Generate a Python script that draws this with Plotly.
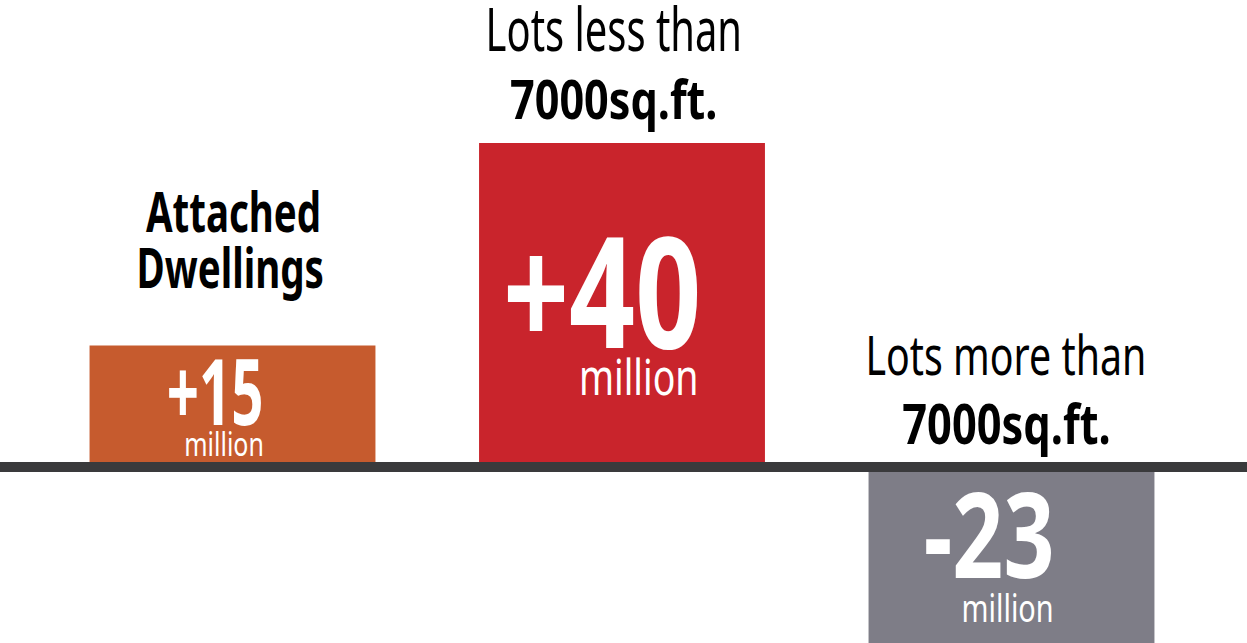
import plotly.graph_objects as go

categories = ["Attached Dwellings", "Lots less than 7000sq.ft.", "Lots more than 7000sq.ft."]
values = [15, 40, -23]
value_labels = ["+15", "+40", "-23"]
unit_label = "million"
title_lines = [("Attached", "Dwellings"), ("Lots less than", "7000sq.ft."), ("Lots more than", "7000sq.ft.")]
colors = ["#C65B2E", "#C9242C", "#7E7D87"]

W, H = 1247, 643
FONT = "Noto Sans, DejaVu Sans Condensed, sans-serif"
px_per_unit = 8.1
zero_px = 467
cat_px = [232.5, 622.0, 1011.5]

fig = go.Figure(go.Bar(
    x=categories, y=values, marker=dict(color=colors, line=dict(width=0)),
    width=0.734, hoverinfo="skip",
))

def py(p):
    return 1 - p / H

ann = []
squeeze = []  # horizontal condensing factor per annotation (narrow display face)
# (text, bold, cap-center px y, center px x, size, squeeze)
title_specs = [
    [(title_lines[0][0], True, 210, 233, 56, 0.687), (title_lines[0][1], True, 266, 230, 56, 0.688)],
    [(title_lines[1][0], False, 28, 614, 60, 0.665), (title_lines[1][1], True, 98, 613, 54, 0.80)],
    [(title_lines[2][0], False, 354, 1006, 54, 0.728), (title_lines[2][1], True, 422, 1006, 56, 0.775)],
]
for i, spec in enumerate(title_specs):
    for txt, bold, cy, cx, size, sq in spec:
        ann.append(dict(
            x=categories[i], xref="x", y=py(cy), yref="paper", xshift=cx - cat_px[i],
            text=f"<b>{txt}</b>" if bold else txt, showarrow=False,
            xanchor="center", yanchor="middle",
            font=dict(family=FONT, size=size, color="#000000"),
        ))
        squeeze.append(sq)

num_specs = [
    # (num cy, num cx, num size, num squeeze, million cy, million cx, million size, million squeeze)
    (390, 215, 91, 0.62, 443, 223.5, 32, 0.78),
    (288, 602, 154, 0.75, 376, 638.5, 50, 0.75),
    (532, 988.5, 119, 0.75, 607, 1007, 38, 0.76),
]
for i, (ncy, ncx, nsz, nsq, mcy, mcx, msz, msq) in enumerate(num_specs):
    ann.append(dict(
        x=categories[i], xref="x", y=py(ncy), yref="paper", xshift=ncx - cat_px[i],
        text=f"<b>{value_labels[i]}</b>", showarrow=False,
        xanchor="center", yanchor="middle",
        font=dict(family=FONT, size=nsz, color="#FFFFFF"),
    ))
    squeeze.append(nsq)
    ann.append(dict(
        x=categories[i], xref="x", y=py(mcy), yref="paper", xshift=mcx - cat_px[i],
        text=unit_label, showarrow=False,
        xanchor="center", yanchor="middle",
        font=dict(family=FONT, size=msz, color="#FFFFFF"),
    ))
    squeeze.append(msq)

y_top = zero_px / px_per_unit
y_bot = -(H - zero_px) / px_per_unit

fig.update_layout(
    width=W, height=H,
    margin=dict(l=0, r=0, t=0, b=0),
    paper_bgcolor="#FFFFFF", plot_bgcolor="#FFFFFF",
    showlegend=False,
    bargap=0.266,
    xaxis=dict(domain=[37.75 / W, 1206.25 / W], range=[-0.5, 2.5],
               visible=False, fixedrange=True),
    yaxis=dict(range=[y_bot, y_top], visible=False, fixedrange=True),
    annotations=ann,
    shapes=[dict(type="line", xref="paper", yref="y", x0=0, x1=1, y0=0, y1=0,
                 line=dict(color="#3A3A3C", width=10), layer="above")],
)

css = "body{margin:0;overflow:hidden}"
for k, sq in enumerate(squeeze):
    css += (f'.annotation[data-index=\\"{k}\\"] text.annotation-text'
            f'{{transform:scaleX({sq});transform-box:fill-box;transform-origin:center}}')
post = (
    "var s=document.createElement('style');"
    f's.textContent="{css}";'
    "document.head.appendChild(s);"
)
fig.write_html("out.html", config={"displayModeBar": False}, post_script=post)
